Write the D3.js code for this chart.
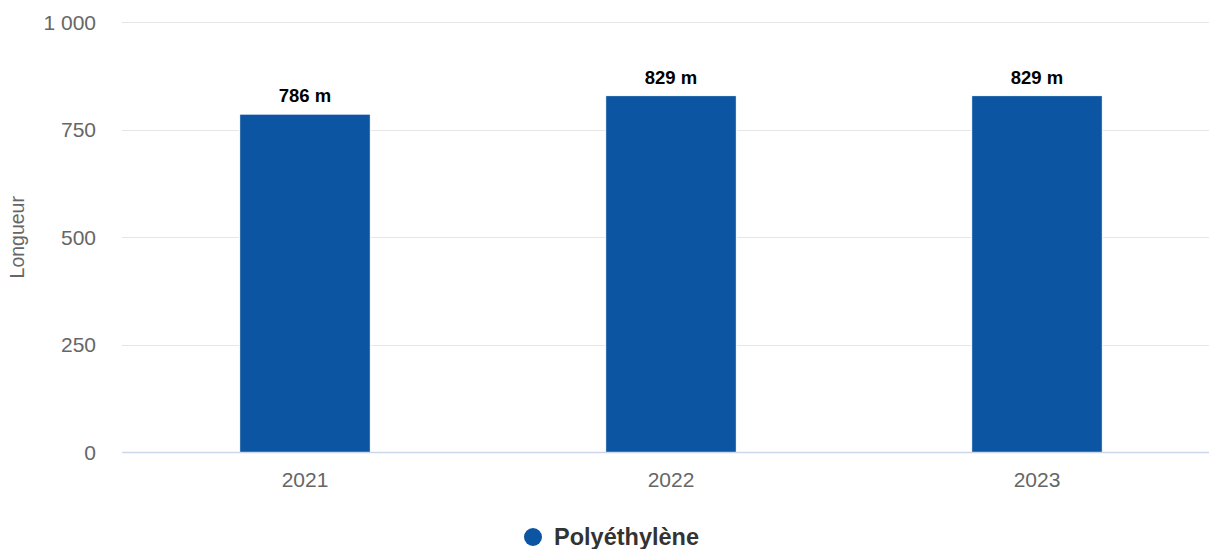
<!DOCTYPE html>
<html><head><meta charset="utf-8">
<script src="https://cdn.jsdelivr.net/npm/d3@7"></script>
<style>body{margin:0;background:#fff}svg{display:block;font-family:"Liberation Sans",Arial,sans-serif}</style>
</head><body><svg id="c" width="1209" height="549"></svg>
<script>
const categories = ["2021", "2022", "2023"];
const values = [786, 829, 829];
const yTicks = [0, 250, 500, 750, 1000];
const seriesName = "Polyéthylène";
const unit = "m";
const yTitle = "Longueur";

const svg = d3.select("#c");
const pLeft = 122, pRight = 1220, pTop = 22, pBottom = 452.5;
const x = d3.scaleBand().domain(categories).range([pLeft, pRight]).paddingInner(0).paddingOuter(0);
const y = d3.scaleLinear().domain([0, 1000]).range([pBottom, pTop]);
const barW = x.step() * 0.357;
const fmt = v => d3.format(",")(v).replace(/,/g, " ");

// grid
svg.append("g").selectAll("line").data(yTicks.filter(t => t > 0)).join("line")
  .attr("x1", pLeft).attr("x2", 1209)
  .attr("y1", d => Math.round(y(d)) + 0.5).attr("y2", d => Math.round(y(d)) + 0.5)
  .attr("stroke", "#e6e6e6").attr("stroke-width", 1);

// y labels
svg.append("g").selectAll("text").data(yTicks).join("text")
  .attr("x", 96).attr("y", d => y(d) + 7.5)
  .attr("text-anchor", "end").attr("font-size", 21).attr("fill", "#666")
  .text(d => fmt(d));

// y title
svg.append("text").attr("transform", `translate(24,${(pTop + pBottom) / 2}) rotate(-90)`)
  .attr("text-anchor", "middle").attr("font-size", 19.5).attr("fill", "#666").text(yTitle);

// bars
svg.append("g").selectAll("rect").data(values).join("rect")
  .attr("x", (d, i) => x(categories[i]) + x.bandwidth() / 2 - barW / 2)
  .attr("width", barW)
  .attr("y", d => y(d)).attr("height", d => pBottom - y(d))
  .attr("fill", "#0b55a2").attr("stroke", "#fff").attr("stroke-width", 1);

// baseline
svg.append("line").attr("x1", pLeft).attr("x2", 1209).attr("y1", pBottom).attr("y2", pBottom)
  .attr("stroke", "#ccd6eb").attr("stroke-width", 1.5);

// data labels
svg.append("g").selectAll("text").data(values).join("text")
  .attr("x", (d, i) => x(categories[i]) + x.bandwidth() / 2)
  .attr("y", d => y(d) - 12)
  .attr("text-anchor", "middle").attr("font-size", 18.5).attr("font-weight", "bold").attr("fill", "#000")
  .text(d => `${d} ${unit}`);

// x labels
svg.append("g").selectAll("text").data(categories).join("text")
  .attr("x", d => x(d) + x.bandwidth() / 2).attr("y", 487)
  .attr("text-anchor", "middle").attr("font-size", 21).attr("fill", "#666").text(d => d);

// legend
const lg = svg.append("g");
lg.append("circle").attr("cx", 533).attr("cy", 537).attr("r", 9).attr("fill", "#0b55a2");
lg.append("text").attr("x", 554).attr("y", 545).attr("font-size", 23.5).attr("font-weight", "bold")
  .attr("fill", "#333").text(seriesName);
</script></body></html>
